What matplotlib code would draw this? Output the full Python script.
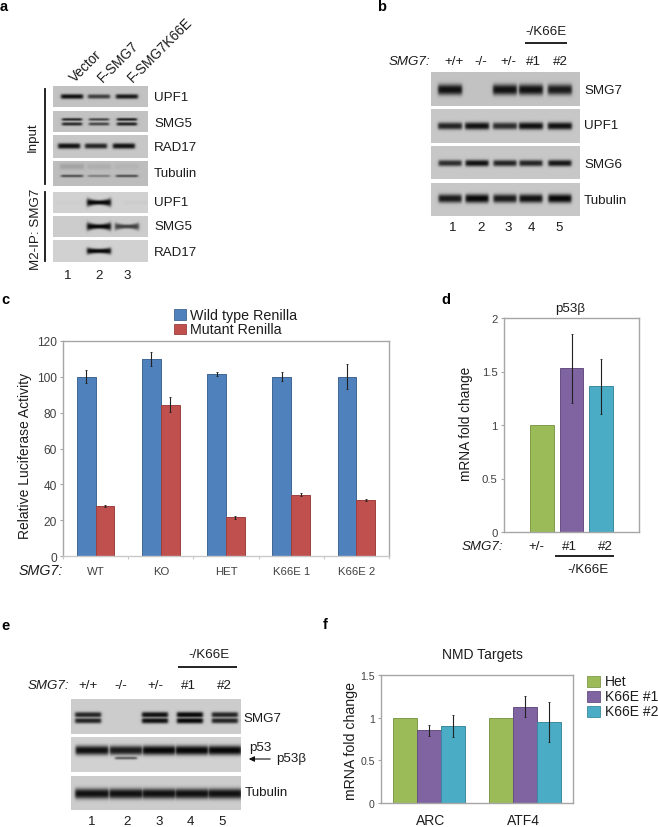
import numpy as np
import matplotlib
matplotlib.use("Agg")
import matplotlib.pyplot as plt
from matplotlib.patches import Rectangle

plt.rcParams['font.family'] = ['Liberation Sans', 'DejaVu Sans']

# ----------------- data -----------------
groups_c = ["WT", "KO", "HET", "K66E 1", "K66E 2"]
wild_type = [100, 110, 101.5, 100, 100]
wild_type_err = [3.7, 3.7, 1.1, 2.5, 7]
mutant = [28, 84.5, 21.5, 34.3, 31.2]
mutant_err = [0.4, 4.3, 0.9, 0.6, 0.7]

d_values = [1, 1.53, 1.36]
d_err = [0, 0.32, 0.26]

groups_f = ["ARC", "ATF4"]
het = [1, 1]
k66e_1 = [0.85, 1.13]
k66e_1_err = [0.06, 0.125]
k66e_2 = [0.905, 0.95]
k66e_2_err = [0.13, 0.23]

# blot band strengths, one per lane (0 = no band)
a_upf1 = [0.95, 0.7, 0.9]
a_smg5 = [0.8, 0.65, 0.85]
a_rad17 = [0.95, 0.85, 0.95]
a_tubulin = [0.6, 0.35, 0.6]
a_smear = [0.14, 0.08, 0.05]
a_ip_upf1 = [0.02, 1.0, 0.03]
a_ip_smg5 = [0, 1.0, 0.7]
a_ip_rad17 = [0, 1.0, 0]

b_smg7 = [0.95, 0, 0.95, 0.95, 0.9]
b_upf1 = [0.85, 0.95, 0.8, 0.95, 0.95]
b_smg6 = [0.8, 0.95, 0.85, 0.85, 0.92]
b_tubulin = [0.9, 1.0, 0.9, 0.95, 1.0]

e_smg7 = [0.85, 0, 0.95, 1.0, 0.85]
e_p53 = [0.95, 0.9, 1.0, 1.0, 1.0]
e_p53b = [0.55]
e_tubulin = [0.95, 0.95, 0.95, 0.95, 0.95]

BLUE, RED = "#4f81bd", "#c0504d"
GREEN, PURPLE, TEAL = "#9bbb59", "#8064a2", "#4bacc6"
GRAY = "#a6a6a6"
INK = "#1c1c1c"
TICK = "#404040"

W, H = 658, 828
fig = plt.figure(figsize=(W / 100, H / 100), dpi=100)


def px_axes(x0, y0, x1, y1, **kw):
    """Axes placed by pixel box, y counted from the top."""
    return fig.add_axes([x0 / W, 1 - y1 / H, (x1 - x0) / W, (y1 - y0) / H], **kw)


def blot(box, layers, bg=0.80, flare=0.0):
    """Draw one gel strip as a grayscale image.
    layers: (strengths, lane centres, half width, y fraction, half height)"""
    x0, y0, x1, y1 = box
    xs = np.linspace(x0, x1, int((x1 - x0) * 3))
    ys = np.linspace(y0, y1, int((y1 - y0) * 3))
    xx, yy = np.meshgrid(xs, ys)
    dark = np.zeros_like(xx)
    for vals, lanes, half, yf, th in layers:
        yy_c = y0 + yf * (y1 - y0)
        for cx, s in zip(lanes, vals):
            prof_x = 0.5 * (np.tanh((xx - cx + half) / 1.5) - np.tanh((xx - cx - half) / 1.5))
            local = th * (1 - flare + 2 * flare * np.clip(np.abs(xx - cx) / half, 0, 1) ** 2) * (0.7 + 0.35 * s)
            prof_y = np.exp(-np.abs((yy - yy_c) / local) ** 2.5)
            dark = np.maximum(dark, s * prof_x * prof_y)
    img = bg * (1 - dark) + 0.03 * dark
    ax = px_axes(x0, y0, x1, y1)
    ax.imshow(img, cmap="gray", vmin=0, vmax=1, aspect="auto", interpolation="bilinear")
    ax.axis("off")


def style_axes(ax, tick_size):
    for side in ax.spines.values():
        side.set_color(GRAY)
        side.set_linewidth(1.0)
    ax.tick_params(axis="y", colors=GRAY, labelcolor=TICK, labelsize=tick_size, length=2.5, width=0.8, pad=2)


# ----------------- blots -----------------
a_lanes = [72, 99, 127]
blot((53, 87, 148, 108), [(a_upf1, a_lanes, 11, 0.5, 2.4)], 0.76)
blot((53, 112, 148, 133), [(a_smg5, a_lanes, 10, 0.40, 1.5), (a_smg5, a_lanes, 10, 0.62, 1.8)], 0.76)
blot((53, 136, 148, 159), [(a_rad17, [69, 96, 124], 11, 0.5, 2.6)], 0.78)
blot((53, 162, 148, 187), [(a_smear, a_lanes, 12, 0.22, 4), (a_tubulin, a_lanes, 11, 0.6, 1.5)], 0.74)
blot((53, 193, 148, 214), [(a_ip_upf1, [68, 99, 136], 12, 0.5, 3.2)], 0.82, 0.3)
blot((53, 217, 148, 238), [(a_ip_smg5, [68, 99, 127], 12, 0.5, 3.2)], 0.80, 0.3)
blot((53, 241, 148, 263), [(a_ip_rad17, [68, 99, 127], 12, 0.5, 2.8)], 0.82, 0.2)

b_lanes = [450, 477, 505, 531, 560]
blot((431, 73, 580, 107), [(b_smg7, b_lanes, 12, 0.52, 5.2)], 0.76)
blot((431, 110, 580, 144), [(b_upf1, b_lanes, 12, 0.5, 3.6)], 0.78)
blot((431, 147, 580, 180), [(b_smg6, b_lanes, 11.5, 0.52, 3.2)], 0.78)
blot((431, 184, 580, 217), [(b_tubulin, b_lanes, 11.5, 0.47, 4.2)], 0.78)

e_lanes = [88, 125, 155, 190, 225]
e_lanes_wide = [92, 126, 159, 192, 225]
blot((71, 700, 241, 735), [(e_smg7, e_lanes, 13, 0.45, 2.8), (e_smg7, e_lanes, 13, 0.62, 2.8)], 0.80)
blot((71, 738, 241, 773), [(e_p53, e_lanes_wide, 16.5, 0.38, 4.6), (e_p53b, [126], 11, 0.60, 1.8)], 0.82)
blot((71, 777, 241, 811), [(e_tubulin, e_lanes_wide, 17, 0.52, 5.0)], 0.80)

# ----------------- panel c -----------------
ax_c = px_axes(63, 342, 389, 557)
x_c = np.arange(len(groups_c))
bw = 0.287
err_kw = dict(ecolor="#222222", elinewidth=0.8, capsize=1, capthick=0.6)
ax_c.bar(x_c - bw / 2, wild_type, bw, yerr=wild_type_err, color=BLUE, edgecolor="#3f6794", linewidth=0.7, error_kw=err_kw)
ax_c.bar(x_c + bw / 2, mutant, bw, yerr=mutant_err, color=RED, edgecolor="#9c403d", linewidth=0.7, error_kw=err_kw)
ax_c.set_xlim(-0.5, 4.5)
ax_c.set_ylim(0, 120)
ax_c.set_yticks(range(0, 121, 20))
ax_c.set_xticks(x_c)
ax_c.set_xticklabels(groups_c, fontsize=8.2, color=TICK)
ax_c.set_xticks(np.arange(-0.5, 5), minor=True)
ax_c.tick_params(axis="x", which="major", length=0, pad=7)
ax_c.tick_params(axis="x", which="minor", length=2.5, width=0.8, color="#c8c8c8")
style_axes(ax_c, 8.6)
ax_c.spines["bottom"].set_color("#c8c8c8")

# ----------------- panel d -----------------
ax_d = px_axes(504, 319, 639, 533)
x_d = np.arange(3)
ax_d.bar(x_d, d_values, 0.81, color=[GREEN, PURPLE, TEAL],
         edgecolor=["#7f9a49", "#664f83", "#3b8aa0"], linewidth=0.7)
ax_d.errorbar(x_d[1:], d_values[1:], yerr=d_err[1:], fmt="none", **err_kw)
ax_d.set_xlim(-1.29, 3.29)
ax_d.set_ylim(0, 2)
ax_d.set_yticks([0, 0.5, 1, 1.5, 2])
ax_d.set_yticklabels(["0", "0.5", "1", "1.5", "2"])
ax_d.set_xticks([])
style_axes(ax_d, 8.2)

# ----------------- panel f -----------------
ax_f = px_axes(381, 676, 573, 804)
x_f = np.arange(2)
bw_f = 0.253
ax_f.bar(x_f - bw_f, het, bw_f, color=GREEN, edgecolor="#7f9a49", linewidth=0.7)
ax_f.bar(x_f, k66e_1, bw_f, yerr=k66e_1_err, color=PURPLE, edgecolor="#664f83", linewidth=0.7, error_kw=err_kw)
ax_f.bar(x_f + bw_f, k66e_2, bw_f, yerr=k66e_2_err, color=TEAL, edgecolor="#3b8aa0", linewidth=0.7, error_kw=err_kw)
ax_f.set_xlim(-0.5, 1.5)
ax_f.set_ylim(0, 1.5)
ax_f.set_yticks([0, 0.5, 1, 1.5])
ax_f.set_yticklabels(["0", "0.5", "1", "1.5"])
ax_f.set_xticks([])
style_axes(ax_f, 7.6)

# ----------------- overlay for labels -----------------
ov = fig.add_axes([0, 0, 1, 1], zorder=10)
ov.set_xlim(0, W)
ov.set_ylim(H, 0)
ov.axis("off")
ov.patch.set_alpha(0)


def label(x, y, s, size=9.6, ha="left", **kw):
    kw.setdefault("color", INK)
    ov.text(x, y, s, fontsize=size, ha=ha, va="center", **kw)


def labels_row(xs, y, items, size=9.6):
    for x, s in zip(xs, items):
        label(x, y, s, size, ha="center")


def hline(x0, x1, y):
    ov.plot([x0, x1], [y, y], color="#111111", lw=1.3, solid_capstyle="butt")


for x, y, s in [(0, 7, "a"), (377, 7, "b"), (1, 300, "c"), (441, 300, "d"), (1, 626, "e"), (323, 625, "f")]:
    label(x, y, s, 10.5, weight="bold", color="black")

# panel a
for x, s in [(72, "Vector"), (100, "F-SMG7"), (130, "F-SMG7K66E")]:
    ov.text(x, 80, s, fontsize=9.8, rotation=45, rotation_mode="anchor", ha="left", va="center", color=INK)
for y, s in [(98, "UPF1"), (124, "SMG5"), (148, "RAD17"), (174, "Tubulin"),
             (203, "UPF1"), (227, "SMG5"), (253, "RAD17")]:
    label(154, y, s)
labels_row([68, 99, 127], 276, ["1", "2", "3"])
label(33, 137, "Input", ha="center", rotation=90)
label(36, 229, "M2-IP: SMG7", ha="center", rotation=90)
ov.plot([45, 45], [90, 185], color="#111111", lw=1.3)
ov.plot([45, 45], [193, 262], color="#111111", lw=1.3)

# panel b
label(389, 62, "SMG7:", style="italic")
labels_row([454, 481, 508, 533, 560], 62, ["+/+", "-/-", "+/-", "#1", "#2"])
hline(525, 567, 44)
label(546, 32, "-/K66E", ha="center")
for y, s in [(91, "SMG7"), (126, "UPF1"), (165, "SMG6"), (201, "Tubulin")]:
    label(584, y, s)
labels_row([453, 481, 508, 531, 559], 228, ["1", "2", "3", "4", "5"])

# panel c
ov.add_patch(Rectangle((174, 310), 12, 11, facecolor=BLUE, edgecolor="#3f6794", lw=0.6))
ov.add_patch(Rectangle((174, 325), 12, 10, facecolor=RED, edgecolor="#9c403d", lw=0.6))
label(190, 316, "Wild type Renilla", 10.3)
label(190, 330, "Mutant Renilla", 10.3)
label(25, 456, "Relative Luciferase Activity", 10, ha="center", rotation=90)
label(19, 571, "SMG7:", 10.3, style="italic")

# panel d
label(570, 309, "p53β", 9.6, ha="center")
label(466, 424, "mRNA fold change", 9.8, ha="center", rotation=90)
label(462, 547, "SMG7:", style="italic")
labels_row([536, 569, 605], 547, ["+/-", "#1", "#2"])
hline(555, 614, 557)
label(588, 570, "-/K66E", ha="center")

# panel e
label(28, 686, "SMG7:", style="italic")
labels_row([88, 121, 155, 188, 224], 686, ["+/+", "-/-", "+/-", "#1", "#2"])
hline(178, 237, 668)
label(209, 655, "-/K66E", ha="center")
label(243, 719, "SMG7")
label(249, 748, "p53")
label(276, 759, "p53β")
label(245, 793, "Tubulin")
ov.annotate("", xy=(246, 760), xytext=(273, 760),
            arrowprops=dict(arrowstyle="-|>", color="#111111", lw=0.8, mutation_scale=8))
labels_row([92, 127, 159, 190, 222], 822, ["1", "2", "3", "4", "5"])

# panel f
label(482, 655, "NMD Targets", 10, ha="center")
label(351, 741, "mRNA fold change", 10.2, ha="center", rotation=90)
labels_row([431, 523], 821, groups_f, 10)
for y, col, edge, s in [(677, GREEN, "#7f9a49", "Het"), (692, PURPLE, "#664f83", "K66E #1"),
                        (707, TEAL, "#3b8aa0", "K66E #2")]:
    ov.add_patch(Rectangle((587, y), 13, 10.5, facecolor=col, edgecolor=edge, lw=0.6))
    label(605, y + 5.5, s, 10)

fig.savefig("out.png", dpi=100)
